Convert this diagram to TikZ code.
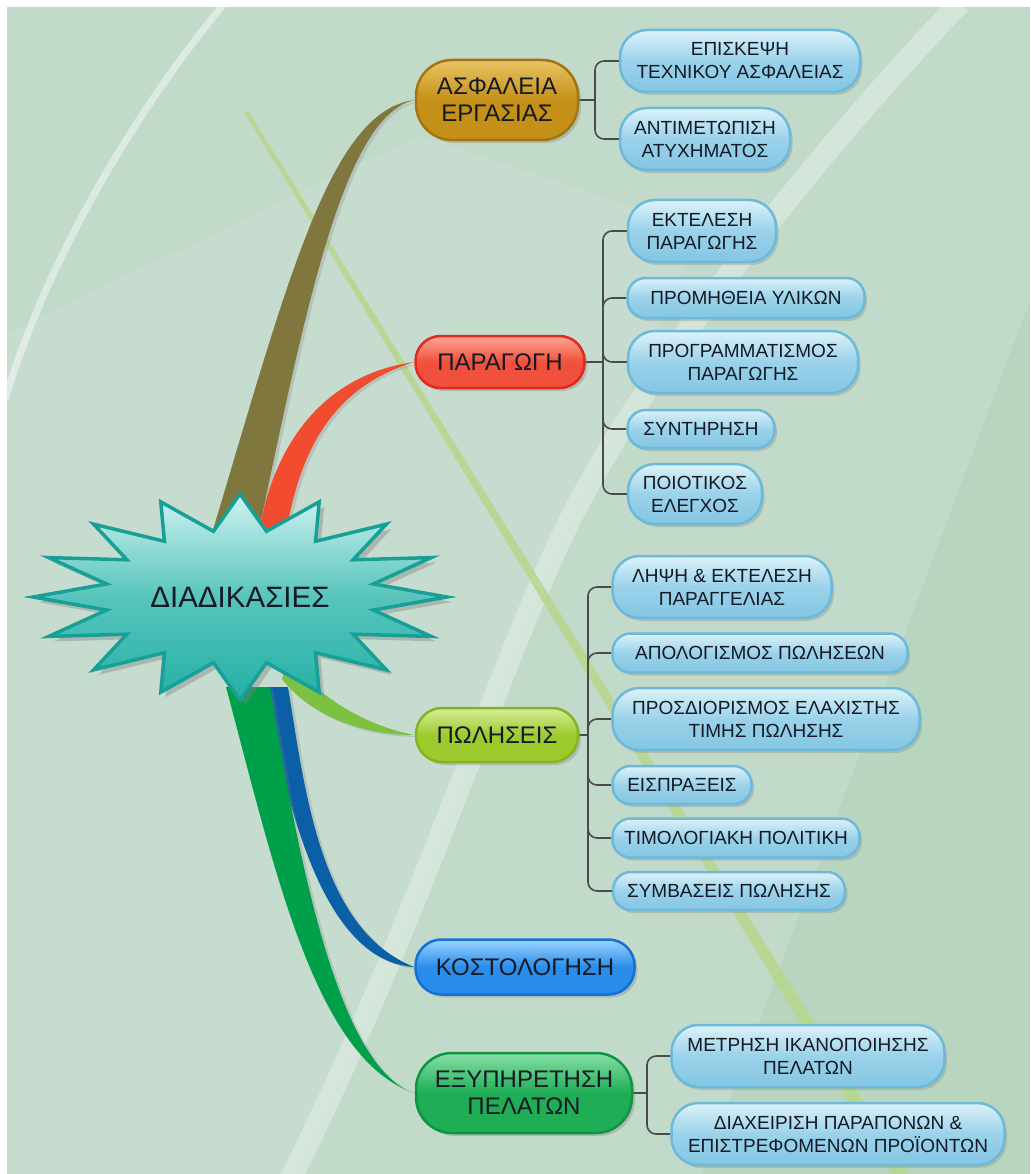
\documentclass[tikz,border=0pt]{standalone}
\usepackage{fontspec}
\setmainfont{Liberation Sans}
\usetikzlibrary{shadows,calc}
\definecolor{bgbase}{HTML}{C2DACA}
\definecolor{txt}{HTML}{141A24}
\definecolor{conncol}{HTML}{4A4A4A}
\definecolor{goldtop}{HTML}{E8C565}\definecolor{goldbase}{HTML}{C49018}\definecolor{goldline}{HTML}{A37612}
\definecolor{redtop}{HTML}{FFA898}\definecolor{redbase}{HTML}{F0503C}\definecolor{redline}{HTML}{E02A1E}
\definecolor{limetop}{HTML}{D6EE9A}\definecolor{limebase}{HTML}{9CCB2E}\definecolor{limeline}{HTML}{84B521}
\definecolor{bluetop}{HTML}{9AD4FF}\definecolor{bluebase}{HTML}{2B8DEB}\definecolor{blueline}{HTML}{1670D4}
\definecolor{greentop}{HTML}{86E0A8}\definecolor{greenbase}{HTML}{1FAE55}\definecolor{greenline}{HTML}{0E9443}
\definecolor{chtop}{HTML}{DDF2FA}\definecolor{chmid}{HTML}{9AD2EA}\definecolor{chbase}{HTML}{84C6E3}\definecolor{chline}{HTML}{6DB9DA}
\definecolor{startop}{HTML}{D0F3F0}\definecolor{starbase}{HTML}{24B0A6}\definecolor{starline}{HTML}{17A097}
\definecolor{brownbr}{HTML}{7F773D}\definecolor{redbr}{HTML}{F24C30}\definecolor{limebr}{HTML}{7DC143}
\definecolor{bluebr}{HTML}{0B5FA6}\definecolor{greenbr}{HTML}{00A04B}\definecolor{stripe}{HTML}{B8D68C}
\pgfdeclarelayer{bg}\pgfdeclarelayer{branches}
\pgfsetlayers{bg,branches,main}
\begin{document}
\begin{tikzpicture}[x=1pt,y=-1pt,
  mainbox/.style={rectangle, line width=2.5pt, align=center, inner sep=2pt, text=txt,
    font=\fontsize{24}{27}\selectfont,
    drop shadow={opacity=0.35,shadow xshift=3pt,shadow yshift=-3pt}},
  goldbox/.style={mainbox, draw=goldline, top color=goldtop, bottom color=goldbase, middle color=goldbase},
  redbox/.style={mainbox, draw=redline, top color=redtop, bottom color=redbase, middle color=redbase},
  limebox/.style={mainbox, draw=limeline, top color=limetop, bottom color=limebase, middle color=limebase},
  bluebox/.style={mainbox, draw=blueline, top color=bluetop, bottom color=bluebase, middle color=bluebase},
  greenbox/.style={mainbox, draw=greenline, top color=greentop, bottom color=greenbase, middle color=greenbase},
  childbox/.style={rectangle, line width=2.5pt, draw=chline, top color=chtop, bottom color=chbase,
    middle color=chmid, align=center, inner sep=2pt, text=txt,
    font=\fontsize{19}{23}\selectfont,
    drop shadow={opacity=0.3,shadow xshift=2.5pt,shadow yshift=-3pt}},
  childone/.style={childbox, rounded corners=18pt},
  childtwo/.style={childbox, rounded corners=27pt},
  conn/.style={draw=conncol, line width=1.6pt, rounded corners=9pt},
  branch/.style={drop shadow={opacity=0.25,shadow xshift=3pt,shadow yshift=-2pt}}
]
\useasboundingbox (0,0) rectangle (1030,1174);
% ---------------- background
\begin{pgfonlayer}{bg}
\fill[white] (0,0) rectangle (1030,1174);
\begin{scope}
\clip (7,7) rectangle (1030,1174);
\fill[bgbase] (7,7) rectangle (1030,1174);
\fill[white,opacity=0.08] (7,333) -- (420,135) -- (700,230) .. controls (640,380) and (600,450) .. (570,520)
   .. controls (500,660) and (420,920) .. (290,1180) -- (7,1180) -- cycle;
\fill[black!40!green,opacity=0.05] (1030,300) -- (700,1180) -- (1030,1180) -- cycle;
\draw[white,opacity=0.45,line width=7pt] (223,5) .. controls (120,130) and (40,280) .. (5,400);
\draw[white,opacity=0.3,line width=22pt] (960,3) .. controls (800,170) and (640,380) .. (570,520)
   .. controls (500,660) and (420,920) .. (290,1180);
\fill[stripe,opacity=0.85] (244,112) -- (249,112) -- (912,1180) -- (896,1180) -- cycle;
\end{scope}
\end{pgfonlayer}
% ---------------- main nodes
\node[goldbox, rounded corners=36pt, minimum width=162pt, minimum height=80pt] (a1) at (497,100) {ΑΣΦΑΛΕΙΑ\\ΕΡΓΑΣΙΑΣ};
\node[redbox, rounded corners=25pt, minimum width=169pt, minimum height=52pt] (p) at (500,362) {ΠΑΡΑΓΩΓΗ};
\node[limebox, rounded corners=26pt, minimum width=162pt, minimum height=54pt] (s) at (497,735) {ΠΩΛΗΣΕΙΣ};
\node[bluebox, rounded corners=26pt, minimum width=219pt, minimum height=55pt] (k) at (525,967) {ΚΟΣΤΟΛΟΓΗΣΗ};
\node[greenbox, rounded corners=36pt, minimum width=216pt, minimum height=80pt] (e) at (524,1093) {ΕΞΥΠΗΡΕΤΗΣΗ\\ΠΕΛΑΤΩΝ};
% ---------------- children
\node[childtwo, minimum width=240pt, minimum height=62pt] (a1c1) at (740,61) {ΕΠΙΣΚΕΨΗ\\ΤΕΧΝΙΚΟΥ ΑΣΦΑΛΕΙΑΣ};
\node[childtwo, minimum width=170pt, minimum height=62pt] (a1c2) at (705,139) {ΑΝΤΙΜΕΤΩΠΙΣΗ\\ΑΤΥΧΗΜΑΤΟΣ};
\node[childtwo, minimum width=148pt, minimum height=62pt] (pc1) at (702,231) {ΕΚΤΕΛΕΣΗ\\ΠΑΡΑΓΩΓΗΣ};
\node[childone, minimum width=237pt, minimum height=40pt] (pc2) at (746,298) {ΠΡΟΜΗΘΕΙΑ ΥΛΙΚΩΝ};
\node[childtwo, minimum width=230pt, minimum height=62pt] (pc3) at (743,362) {ΠΡΟΓΡΑΜΜΑΤΙΣΜΟΣ\\ΠΑΡΑΓΩΓΗΣ};
\node[childone, minimum width=147pt, minimum height=38pt] (pc4) at (701,429) {ΣΥΝΤΗΡΗΣΗ};
\node[childtwo, minimum width=134pt, minimum height=60pt] (pc5) at (695,494) {ΠΟΙΟΤΙΚΟΣ\\ΕΛΕΓΧΟΣ};
\node[childtwo, minimum width=219pt, minimum height=62pt] (sc1) at (722,587) {ΛΗΨΗ \& ΕΚΤΕΛΕΣΗ\\ΠΑΡΑΓΓΕΛΙΑΣ};
\node[childone, minimum width=295pt, minimum height=39pt] (sc2) at (760,653) {ΑΠΟΛΟΓΙΣΜΟΣ ΠΩΛΗΣΕΩΝ};
\node[childtwo, minimum width=307pt, minimum height=62pt] (sc3) at (766,719) {ΠΡΟΣΔΙΟΡΙΣΜΟΣ ΕΛΑΧΙΣΤΗΣ\\ΤΙΜΗΣ ΠΩΛΗΣΗΣ};
\node[childone, minimum width=139pt, minimum height=38pt] (sc4) at (682,785) {ΕΙΣΠΡΑΞΕΙΣ};
\node[childone, minimum width=247pt, minimum height=39pt] (sc5) at (736,838) {ΤΙΜΟΛΟΓΙΑΚΗ ΠΟΛΙΤΙΚΗ};
\node[childone, minimum width=232pt, minimum height=38pt] (sc6) at (729,891) {ΣΥΜΒΑΣΕΙΣ ΠΩΛΗΣΗΣ};
\node[childtwo, minimum width=273pt, minimum height=62pt] (ec1) at (808,1056) {ΜΕΤΡΗΣΗ ΙΚΑΝΟΠΟΙΗΣΗΣ\\ΠΕΛΑΤΩΝ};
\node[childtwo, minimum width=333pt, minimum height=62pt] (ec2) at (838,1134) {ΔΙΑΧΕΙΡΙΣΗ ΠΑΡΑΠΟΝΩΝ \&\\ΕΠΙΣΤΡΕΦΟΜΕΝΩΝ ΠΡΟΪΟΝΤΩΝ};
% ---------------- brackets
\coordinate (ja) at (595,100);
\coordinate (jp) at (603,362);
\coordinate (js) at (588,735);
\coordinate (je) at (647,1093);
\begin{pgfonlayer}{branches}
\draw[conn] (a1.east) -- (ja);
\foreach \c in {a1c1,a1c2} \draw[conn] (ja) |- (\c.west);
\draw[conn] (p.east) -- (jp);
\foreach \c in {pc1,pc2,pc3,pc4,pc5} \draw[conn] (jp) |- (\c.west);
\draw[conn] (s.east) -- (js);
\foreach \c in {sc1,sc2,sc3,sc4,sc5,sc6} \draw[conn] (js) |- (\c.west);
\draw[conn] (e.east) -- (je);
\foreach \c in {ec1,ec2} \draw[conn] (je) |- (\c.west);
\end{pgfonlayer}
% ---------------- hub and branches
\coordinate (hub) at (240,597);
\begin{pgfonlayer}{branches}
\fill[brownbr,branch] ($(hub)+(-30,-57)$) .. controls (288,280) and (330,110) .. (a1.west)
   .. controls (345,115) and (307,300) .. ($(hub)+(17,-57)$) -- cycle;
\fill[redbr,branch] ($(hub)+(18,-57)$) .. controls (270,450) and (320,375) .. (p.west)
   .. controls (340,385) and (300,440) .. ($(hub)+(45,-57)$) -- cycle;
\fill[limebr,branch] ($(hub)+(48,60)$) .. controls (310,690) and (360,725) .. (s.west)
   .. controls (360,735) and (310,715) .. ($(hub)+(42,82)$) -- cycle;
\fill[bluebr,branch] ($(hub)+(48,90)$) .. controls (305,790) and (320,930) .. (k.west)
   .. controls (330,962) and (290,830) .. ($(hub)+(25,90)$) -- cycle;
\fill[greenbr,branch] ($(hub)+(-14,90)$) .. controls (275,870) and (315,1060) .. (e.west)
   .. controls (340,1070) and (300,870) .. ($(hub)+(30,90)$) -- cycle;
\end{pgfonlayer}
% ---------------- star
\draw[line width=3.5pt, draw=starline, top color=startop, bottom color=starbase, middle color=starbase!70!startop,
      drop shadow={opacity=0.4,shadow xshift=5pt,shadow yshift=-5pt}]
  ($(hub)+(207,0)$)
  \foreach \i in {1,...,31} {
    -- ($(hub)+({ifthenelse(mod(\i,2)==0,207,136)*cos(\i*11.25)},{-ifthenelse(mod(\i,2)==0,103,67)*sin(\i*11.25)})$)
  } -- cycle;
\node[text=txt, font=\fontsize{29.5}{33}\selectfont] (star) at (hub) {ΔΙΑΔΙΚΑΣΙΕΣ};
\end{tikzpicture}
\end{document}
